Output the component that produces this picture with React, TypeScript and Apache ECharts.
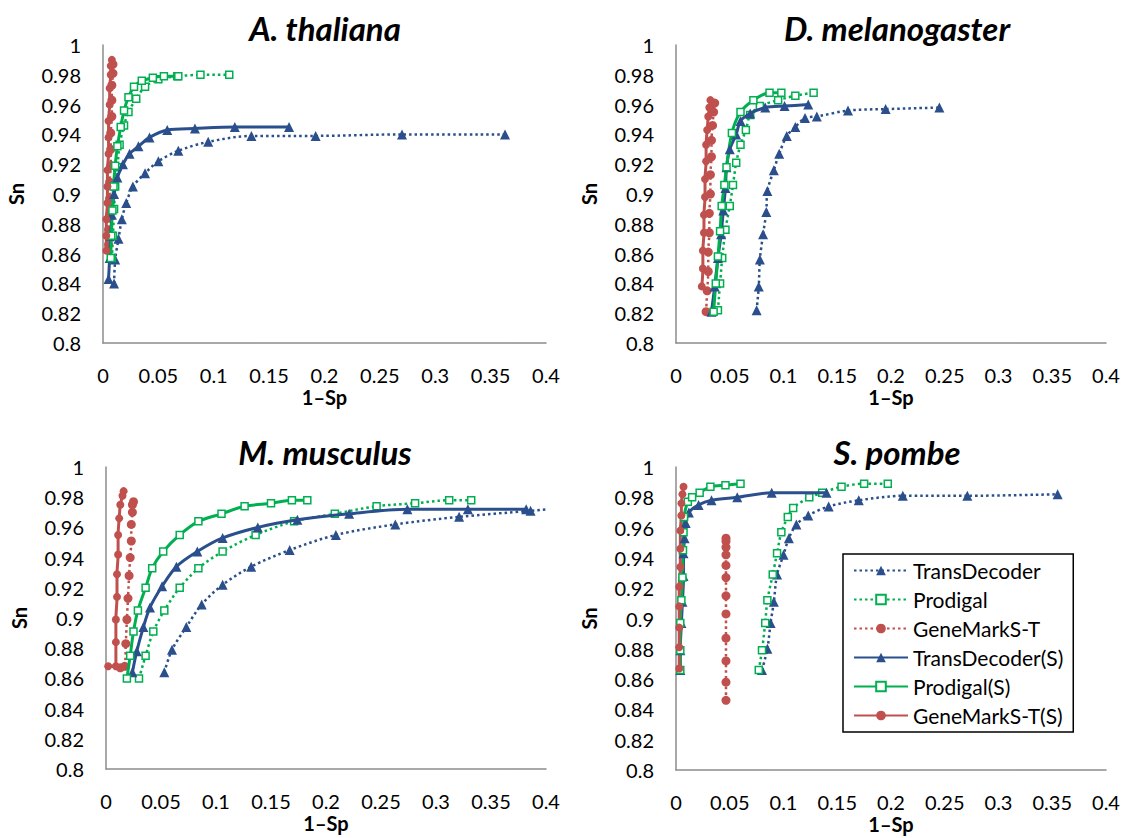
import React, { useEffect, useRef } from "react";
import * as echarts from "echarts";

// ---------- data ----------
const panelTitles = ["A. thaliana", "D. melanogaster", "M. musculus", "S. pombe"];
const seriesNames = ["TransDecoder", "Prodigal", "GeneMarkS-T", "TransDecoder(S)", "Prodigal(S)", "GeneMarkS-T(S)"];

// A. thaliana
const aTD = [[0.010,0.840],[0.011,0.856],[0.014,0.870],[0.017,0.883],[0.021,0.894],[0.027,0.905],[0.038,0.914],[0.050,0.922],[0.068,0.929],[0.095,0.935],[0.134,0.939],[0.192,0.939],[0.270,0.940],[0.363,0.940]];
const aPR = [[0.008,0.857],[0.009,0.872],[0.010,0.890],[0.011,0.905],[0.013,0.918],[0.015,0.933],[0.019,0.946],[0.023,0.955],[0.030,0.964],[0.038,0.972],[0.050,0.977],[0.067,0.979],[0.088,0.980],[0.114,0.980]];
const aGM = [[0.005,0.866],[0.005,0.876],[0.006,0.886],[0.006,0.897],[0.006,0.908],[0.007,0.919],[0.007,0.930],[0.007,0.941],[0.008,0.952],[0.008,0.963],[0.008,0.973],[0.009,0.981],[0.009,0.987]];
const aTDS = [[0.005,0.843],[0.006,0.857],[0.007,0.872],[0.008,0.886],[0.010,0.900],[0.013,0.911],[0.018,0.920],[0.024,0.927],[0.032,0.932],[0.042,0.938],[0.058,0.943],[0.083,0.944],[0.119,0.945],[0.168,0.945]];
const aPRS = [[0.007,0.857],[0.0075,0.872],[0.0085,0.889],[0.0095,0.905],[0.011,0.919],[0.013,0.932],[0.016,0.945],[0.019,0.956],[0.023,0.965],[0.028,0.972],[0.035,0.976],[0.045,0.978],[0.055,0.979],[0.068,0.979]];
const aGMS = [[0.003,0.862],[0.003,0.872],[0.003,0.883],[0.004,0.894],[0.004,0.905],[0.004,0.916],[0.005,0.927],[0.005,0.938],[0.005,0.949],[0.006,0.960],[0.006,0.971],[0.007,0.980],[0.007,0.986],[0.008,0.990]];

// D. melanogaster
const bTD = [[0.075,0.822],[0.077,0.838],[0.078,0.856],[0.081,0.873],[0.084,0.888],[0.085,0.902],[0.091,0.916],[0.096,0.927],[0.103,0.939],[0.111,0.945],[0.120,0.951],[0.131,0.952],[0.160,0.956],[0.195,0.957],[0.245,0.958]];
const bPR = [[0.039,0.822],[0.041,0.840],[0.043,0.857],[0.046,0.876],[0.050,0.892],[0.053,0.906],[0.056,0.921],[0.060,0.933],[0.065,0.943],[0.069,0.953],[0.078,0.959],[0.095,0.963],[0.111,0.966],[0.128,0.968]];
const bGM = [[0.028,0.821],[0.029,0.835],[0.030,0.848],[0.030,0.861],[0.031,0.874],[0.031,0.887],[0.032,0.900],[0.032,0.913],[0.033,0.925],[0.033,0.936],[0.034,0.946],[0.035,0.955],[0.036,0.961]];
const bTDS = [[0.033,0.821],[0.036,0.838],[0.039,0.857],[0.042,0.873],[0.044,0.889],[0.046,0.904],[0.047,0.918],[0.050,0.930],[0.056,0.940],[0.060,0.949],[0.069,0.954],[0.083,0.958],[0.101,0.959],[0.123,0.960]];
const bPRS = [[0.035,0.821],[0.037,0.840],[0.039,0.858],[0.041,0.875],[0.0425,0.892],[0.045,0.906],[0.047,0.918],[0.052,0.941],[0.060,0.955],[0.072,0.963],[0.087,0.968],[0.098,0.968]];
const bGMS = [[0.024,0.838],[0.025,0.850],[0.025,0.862],[0.026,0.874],[0.026,0.886],[0.027,0.898],[0.027,0.910],[0.028,0.922],[0.028,0.933],[0.029,0.943],[0.030,0.952],[0.031,0.958],[0.032,0.963]];

// M. musculus
const cTD = [[0.053,0.864],[0.060,0.879],[0.073,0.894],[0.087,0.909],[0.106,0.922],[0.132,0.934],[0.167,0.945],[0.209,0.955],[0.263,0.962],[0.321,0.967],[0.386,0.971],[0.420,0.973]];
const cPR = [[0.030,0.860],[0.036,0.875],[0.043,0.891],[0.053,0.905],[0.067,0.920],[0.084,0.933],[0.106,0.944],[0.136,0.955],[0.171,0.964],[0.208,0.969],[0.246,0.974],[0.281,0.976],[0.312,0.978],[0.332,0.978]];
const cGM = [[0.013,0.867],[0.017,0.868],[0.018,0.883],[0.019,0.899],[0.020,0.913],[0.021,0.928],[0.022,0.940],[0.023,0.951],[0.023,0.962],[0.024,0.970],[0.024,0.975],[0.025,0.977]];
const cTDS = [[0.024,0.864],[0.028,0.878],[0.034,0.894],[0.040,0.907],[0.051,0.921],[0.064,0.934],[0.083,0.944],[0.106,0.953],[0.138,0.960],[0.174,0.965],[0.221,0.969],[0.274,0.972],[0.329,0.972],[0.382,0.972]];
const cPRS = [[0.019,0.860],[0.022,0.875],[0.025,0.891],[0.029,0.905],[0.036,0.920],[0.042,0.933],[0.052,0.944],[0.067,0.955],[0.084,0.964],[0.105,0.969],[0.126,0.974],[0.150,0.976],[0.169,0.978],[0.183,0.978]];
const cGMS = [[0.002,0.868],[0.009,0.868],[0.009,0.884],[0.009,0.899],[0.010,0.914],[0.010,0.929],[0.011,0.942],[0.011,0.955],[0.012,0.966],[0.013,0.975],[0.015,0.981],[0.016,0.984]];

// S. pombe
const dTD = [[0.080,0.866],[0.085,0.880],[0.088,0.897],[0.091,0.911],[0.094,0.929],[0.100,0.942],[0.105,0.953],[0.112,0.962],[0.123,0.968],[0.142,0.974],[0.170,0.978],[0.211,0.981],[0.271,0.981],[0.355,0.982]];
const dPR = [[0.077,0.866],[0.080,0.879],[0.083,0.897],[0.085,0.912],[0.090,0.929],[0.094,0.943],[0.098,0.957],[0.104,0.967],[0.109,0.973],[0.124,0.980],[0.136,0.983],[0.154,0.987],[0.175,0.989],[0.197,0.989]];
const dGM = [[0.0465,0.846],[0.0465,0.858],[0.0465,0.872],[0.0465,0.887],[0.0465,0.903],[0.0465,0.915],[0.0465,0.927],[0.0465,0.935],[0.0465,0.942],[0.0465,0.947],[0.0465,0.951],[0.0465,0.953]];
const dTDS = [[0.004,0.866],[0.004,0.879],[0.005,0.897],[0.006,0.911],[0.007,0.928],[0.007,0.943],[0.008,0.953],[0.009,0.963],[0.012,0.970],[0.021,0.975],[0.033,0.978],[0.057,0.980],[0.089,0.983],[0.140,0.983]];
const dPRS = [[0.004,0.866],[0.004,0.879],[0.004,0.897],[0.005,0.912],[0.006,0.927],[0.0065,0.945],[0.007,0.957],[0.0075,0.967],[0.011,0.977],[0.015,0.980],[0.022,0.983],[0.032,0.987],[0.046,0.988],[0.060,0.989]];
const dGMS = [[0.003,0.867],[0.003,0.881],[0.003,0.894],[0.003,0.908],[0.003,0.921],[0.004,0.934],[0.004,0.946],[0.004,0.958],[0.005,0.968],[0.005,0.976],[0.006,0.982],[0.007,0.987]];

const panelData = [
  [aTD, aPR, aGM, aTDS, aPRS, aGMS],
  [bTD, bPR, bGM, bTDS, bPRS, bGMS],
  [cTD, cPR, cGM, cTDS, cPRS, cGMS],
  [dTD, dPR, dGM, dTDS, dPRS, dGMS],
];

// axis ranges
const xMin = 0, xMax = 0.4, xStep = 0.05;
const yMin = 0.8, yMax = 1, yStep = 0.02;

// ---------- style ----------
const FONT = "Lato, 'Open Sans', sans-serif";
const BLUE = "#2A4F8C";
const GREEN = "#00B050";
const RED = "#C0504D";

const grids = [
  { left: 103, top: 45, width: 443, height: 298 },
  { left: 676, top: 45, width: 430, height: 298 },
  { left: 106, top: 467, width: 440, height: 302 },
  { left: 676, top: 467, width: 430, height: 303 },
];

const seriesStyles = [
  { color: BLUE, dotted: true, symbol: "triangle", size: 10, hollow: false },
  { color: GREEN, dotted: true, symbol: "rect", size: 7, hollow: true },
  { color: RED, dotted: true, symbol: "circle", size: 9, hollow: false },
  { color: BLUE, dotted: false, symbol: "triangle", size: 10, hollow: false },
  { color: GREEN, dotted: false, symbol: "rect", size: 7, hollow: true },
  { color: RED, dotted: false, symbol: "circle", size: 8, hollow: false },
];

function buildOption() {
  const series: any[] = [];
  panelData.forEach((arrs, gi) => {
    arrs.forEach((data, si) => {
      const st = seriesStyles[si];
      series.push({
        type: "line",
        name: seriesNames[si],
        xAxisIndex: gi,
        yAxisIndex: gi,
        data,
        smooth: 0.3,
        clip: true,
        symbol: st.symbol,
        symbolSize: st.size,
        showAllSymbol: true,
        lineStyle: {
          color: st.color,
          width: st.dotted ? 2.5 : 3,
          type: st.dotted ? [2.5, 3] : "solid",
        },
        itemStyle: st.hollow
          ? { color: "#fff", borderColor: st.color, borderWidth: 1.5 }
          : { color: st.color },
        emphasis: { disabled: true },
        z: si >= 3 ? 3 : 2,
      });
    });
  });

  const axisLabel = { fontFamily: FONT, fontSize: 20, color: "#000" };
  const xAxis = grids.map((_, i) => ({
    type: "value",
    gridIndex: i,
    min: xMin,
    max: xMax,
    interval: xStep,
    name: "1–Sp",
    nameLocation: "middle",
    nameGap: 44,
    nameTextStyle: { fontFamily: FONT, fontSize: 20, fontWeight: "bold", color: "#000" },
    axisLine: { show: true, lineStyle: { color: "#8c8c8c", width: 1.5 } },
    axisTick: { show: false },
    splitLine: { show: false },
    axisLabel: { ...axisLabel, margin: 22 },
  }));
  const yAxis = grids.map((_, i) => ({
    type: "value",
    gridIndex: i,
    min: yMin,
    max: yMax,
    interval: yStep,
    name: "Sn",
    nameLocation: "middle",
    nameGap: 77,
    nameTextStyle: { fontFamily: FONT, fontSize: 20, fontWeight: "bold", color: "#000" },
    axisLine: { show: true, lineStyle: { color: "#8c8c8c", width: 1.5 } },
    axisTick: { show: false },
    splitLine: { show: false },
    axisLabel: { ...axisLabel, margin: 22 },
  }));

  const titleCenters = [
    [325, 28],
    [897, 28],
    [325, 452],
    [897, 452],
  ];
  const graphic = panelTitles.map((t, i) => ({
    type: "text",
    x: titleCenters[i][0],
    y: titleCenters[i][1],
    style: {
      text: t,
      fontFamily: FONT,
      fontSize: 33,
      fontWeight: "bold",
      fontStyle: "italic",
      fill: "#000",
      textAlign: "center",
      textVerticalAlign: "middle",
    },
  }));

  return {
    animation: false,
    backgroundColor: "#fff",
    grid: grids,
    xAxis,
    yAxis,
    series,
    graphic,
    legend: {
      data: seriesNames,
      orient: "vertical",
      left: 843,
      top: 554,
      itemWidth: 54,
      itemHeight: 12,
      itemGap: 8,
      padding: [6, 10, 6, 10],
      borderColor: "#000",
      borderWidth: 1.5,
      backgroundColor: "#fff",
      textStyle: { fontFamily: FONT, fontSize: 21, color: "#000", lineHeight: 20 },
    },
  };
}

export default function App() {
  const ref = useRef<HTMLDivElement>(null);
  useEffect(() => {
    if (!ref.current) return;
    const chart = echarts.init(ref.current, undefined, { renderer: "svg" });
    chart.setOption(buildOption() as any);
    return () => chart.dispose();
  }, []);
  return (
    <div
      ref={ref}
      style={{ position: "fixed", left: 0, top: 0, width: 1145, height: 838, background: "#fff" }}
    />
  );
}
